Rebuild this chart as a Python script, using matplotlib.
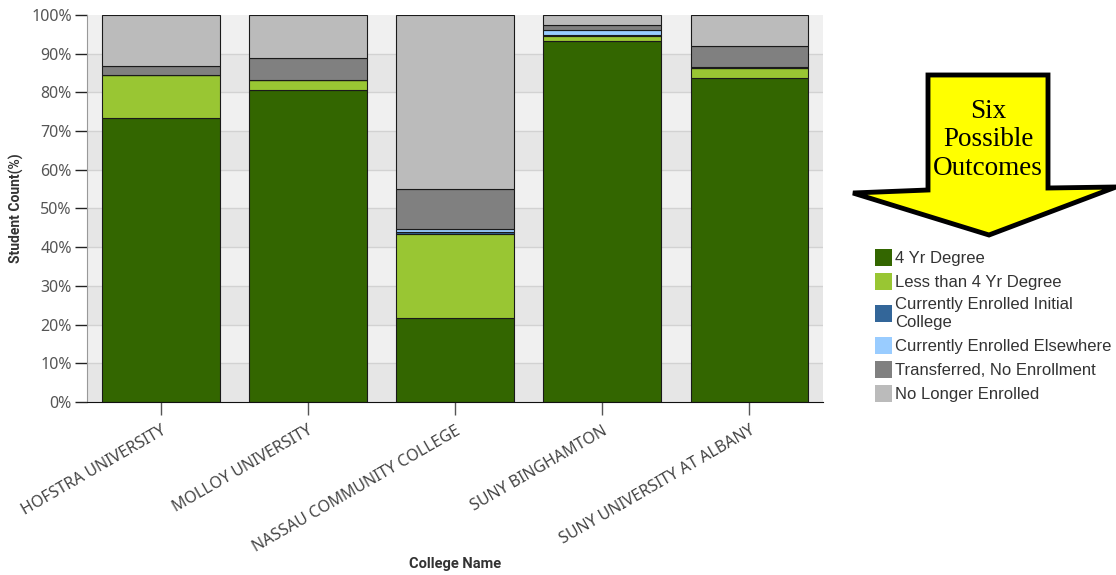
import matplotlib
matplotlib.use("Agg")
import matplotlib.pyplot as plt
from matplotlib.patches import Patch, Polygon
import numpy as np

# data (percent of students)
colleges = ["HOFSTRA UNIVERSITY", "MOLLOY UNIVERSITY", "NASSAU COMMUNITY COLLEGE",
            "SUNY BINGHAMTON", "SUNY UNIVERSITY AT ALBANY"]
four_yr = [73.4, 80.7, 21.6, 93.3, 83.8]
less_four = [11.0, 2.6, 21.8, 1.3, 2.6]
enrolled_initial = [0.0, 0.0, 0.6, 0.2, 0.0]
enrolled_elsewhere = [0.0, 0.0, 0.7, 1.2, 0.1]
transferred = [2.4, 5.7, 10.3, 1.5, 5.5]
no_longer = [13.2, 11.0, 45.0, 2.5, 8.0]

outcomes = ["4 Yr Degree", "Less than 4 Yr Degree", "Currently Enrolled Initial\nCollege",
            "Currently Enrolled Elsewhere", "Transferred, No Enrollment", "No Longer Enrolled"]
colors = ["#336600", "#99c633", "#336699", "#99ccff", "#808080", "#bbbbbb"]
series = [four_yr, less_four, enrolled_initial, enrolled_elsewhere, transferred, no_longer]

fig = plt.figure(figsize=(11.16, 5.75), dpi=100)
ax = fig.add_axes([0.078, 0.301, 0.6595, 0.673])

# striped background bands
for k in range(10):
    ax.axhspan(k * 10, (k + 1) * 10, color="#e6e6e6" if k % 2 == 0 else "#f0f0f0", zorder=0, lw=0)
for k in range(1, 10):
    ax.axhline(k * 10, color="#d2d2d2", lw=1, zorder=0.5)

x = np.arange(len(colleges))
bottom = np.zeros(len(colleges))
for vals, col in zip(series, colors):
    vals = np.array(vals)
    ax.bar(x, vals, 0.8, bottom=bottom, color=col, edgecolor="#1a1a1a", lw=0.8, zorder=2)
    bottom += vals

ax.set_xlim(-0.5, 4.5)
ax.set_ylim(0, 100)
ax.set_yticks(np.arange(0, 101, 10))
ax.set_yticklabels([f"{v}%" for v in range(0, 101, 10)], color="#555555", fontsize=11.5,
                   family="Noto Sans")
ax.tick_params(axis="y", length=9, width=1, color="#222222", pad=2)
ax.set_xticks(x)
ax.set_xticklabels(colleges, rotation=30, ha="right", rotation_mode="anchor",
                   color="#444444", fontsize=11.5, family="Noto Sans")
ax.tick_params(axis="x", length=9, width=1, color="#555555", pad=6)

for s in ["top", "right"]:
    ax.spines[s].set_visible(False)
ax.spines["left"].set_color("#999999")
ax.spines["bottom"].set_color("#111111")

ax.set_ylabel("Student Count(%)", fontsize=10, fontweight="bold", color="#333333",
              family="Roboto", labelpad=5)
fig.text(0.408, 0.012, "College Name", fontsize=10.5, fontweight="bold", color="#333333",
         family="Roboto", ha="center")

# legend
handles = [Patch(facecolor=c, edgecolor="none") for c in colors]
fig.legend(handles, outcomes, loc="upper left", bbox_to_anchor=(0.7785, 0.578), frameon=False,
           prop={"family": "Liberation Sans", "size": 12}, labelcolor="#333333",
           handlelength=1.0, handleheight=1.2, handletextpad=0.2, labelspacing=0.41,
           borderaxespad=0)

# yellow block arrow
pts = [(928, 75), (1048, 75), (1048, 188), (1116, 187), (989, 235), (853, 193), (928, 190)]
pts = [(px / 1116, 1 - py / 575) for px, py in pts]
fig.patches.append(Polygon(pts, closed=True, transform=fig.transFigure, facecolor="#ffff00",
                           edgecolor="black", lw=3.5, joinstyle="miter"))
fig.text(988 / 1116, 1 - 140 / 575, "Six\nPossible\nOutcomes", ha="center", va="center",
         family="Liberation Serif", fontsize=19.5, linespacing=1.2)

fig.savefig("out.png", dpi=100)
